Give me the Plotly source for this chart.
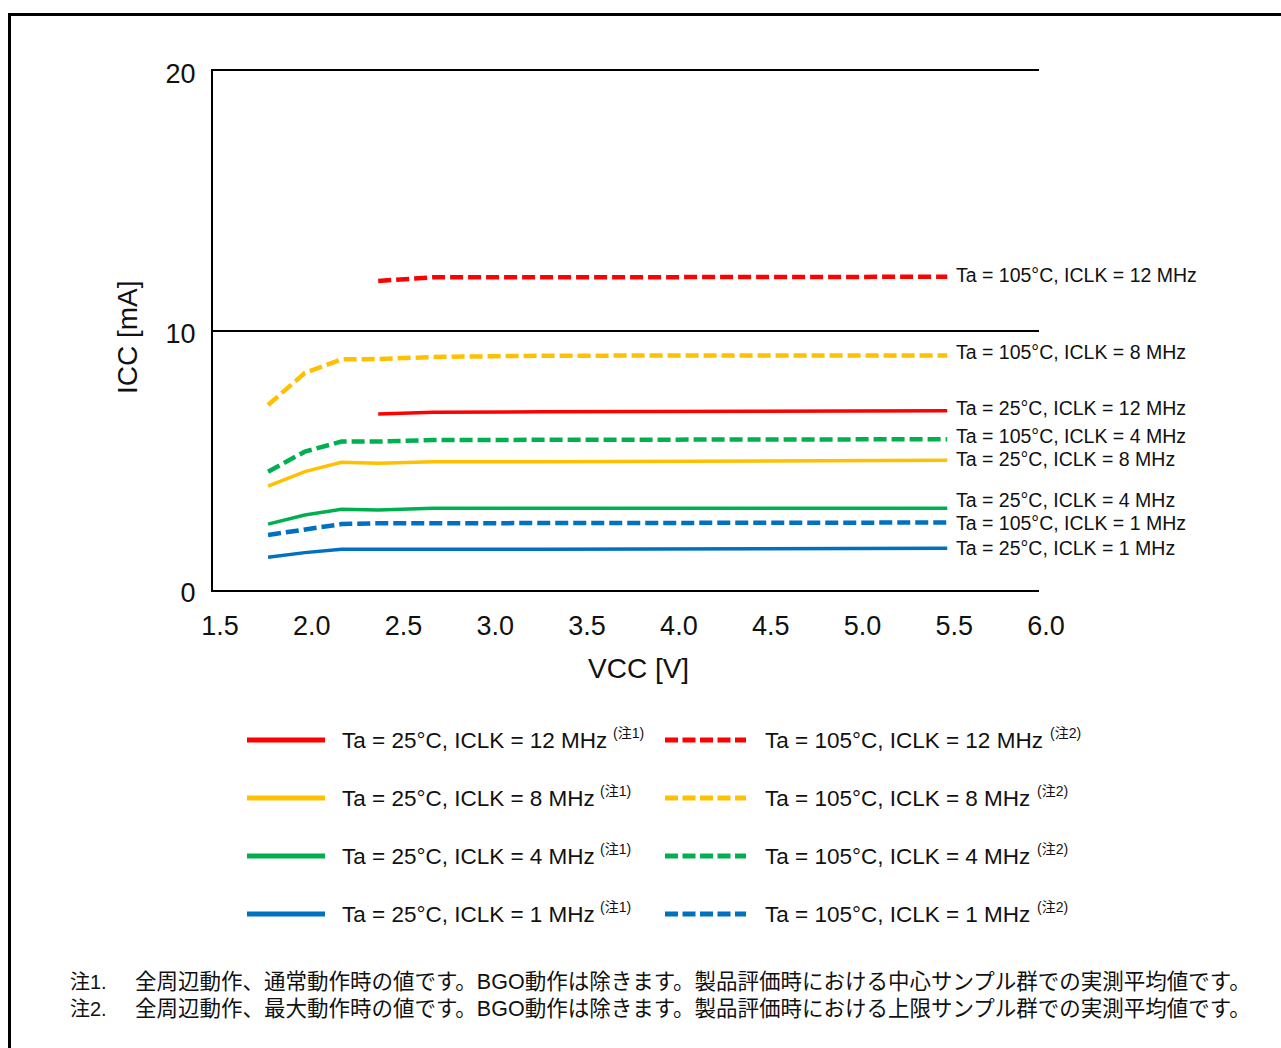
import plotly.graph_objects as go

# ---- data -------------------------------------------------------------
vcc = [1.8, 2.0, 2.2, 2.4, 2.7, 3.3, 5.5]
vcc_hi = [2.4, 2.7, 3.3, 5.5]

icc_25_12 = [6.78, 6.85, 6.87, 6.91]
icc_105_12 = [11.91, 12.05, 12.05, 12.07]
icc_25_8 = [4.00, 4.56, 4.92, 4.88, 4.94, 4.94, 5.00]
icc_105_8 = [7.13, 8.36, 8.89, 8.90, 8.98, 9.03, 9.04]
icc_25_4 = [2.54, 2.89, 3.11, 3.08, 3.15, 3.15, 3.15]
icc_105_4 = [4.56, 5.33, 5.72, 5.72, 5.78, 5.78, 5.81]
icc_25_1 = [1.26, 1.44, 1.57, 1.57, 1.54, 1.57, 1.61]
icc_105_1 = [2.12, 2.31, 2.54, 2.57, 2.57, 2.60, 2.60]

x_ticks = [1.5, 2.0, 2.5, 3.0, 3.5, 4.0, 4.5, 5.0, 5.5, 6.0]
y_ticks = [0, 10, 20]

names = {
    "25_12": "Ta = 25°C, ICLK = 12 MHz",
    "105_12": "Ta = 105°C, ICLK = 12 MHz",
    "25_8": "Ta = 25°C, ICLK = 8 MHz",
    "105_8": "Ta = 105°C, ICLK = 8 MHz",
    "25_4": "Ta = 25°C, ICLK = 4 MHz",
    "105_4": "Ta = 105°C, ICLK = 4 MHz",
    "25_1": "Ta = 25°C, ICLK = 1 MHz",
    "105_1": "Ta = 105°C, ICLK = 1 MHz",
}
notes = [
    ("注1.", "全周辺動作、通常動作時の値です。BGO動作は除きます。製品評価時における中心サンプル群での実測平均値です。"),
    ("注2.", "全周辺動作、最大動作時の値です。BGO動作は除きます。製品評価時における上限サンプル群での実測平均値です。"),
]

# ---- styling ----------------------------------------------------------
RED, YEL, GRN, BLU = "#FF0000", "#FFC000", "#00B050", "#0070C0"
FONT = "Liberation Sans, Arial, Noto Sans CJK JP, sans-serif"
DASH = "13px,5px"

series = [
    # key, x, y, colour, dashed
    ("105_12", vcc_hi, icc_105_12, RED, True),
    ("105_8", vcc, icc_105_8, YEL, True),
    ("25_12", vcc_hi, icc_25_12, RED, False),
    ("105_4", vcc, icc_105_4, GRN, True),
    ("25_8", vcc, icc_25_8, YEL, False),
    ("25_4", vcc, icc_25_4, GRN, False),
    ("105_1", vcc, icc_105_1, BLU, True),
    ("25_1", vcc, icc_25_1, BLU, False),
]
# vertical nudge (px) of each end label relative to its line end
label_shift = {"105_12": 2, "105_8": 3, "25_12": 3, "105_4": 3,
               "25_8": 1, "25_4": 8, "105_1": 0, "25_1": 0}

W_PX, H_PX = 1281, 1048
L, R, T, B = 213, 1039, 71, 590


def px(xp):
    return (xp - L) / (R - L)


def py(yp):
    return (B - yp) / (B - T)


fig = go.Figure()
annotations = []
shapes = []

for key, xs, ys, col, dashed in series:
    fig.add_trace(go.Scatter(
        x=xs, y=ys, mode="lines", name=names[key], showlegend=False,
        line=dict(color=col, width=4.5 if dashed else 3.5,
                  dash=DASH if dashed else "solid"),
    ))
    annotations.append(dict(
        x=xs[-1], y=ys[-1], xref="x", yref="y", text=names[key],
        showarrow=False, xanchor="left", yanchor="middle",
        xshift=7, yshift=label_shift[key],
        font=dict(family=FONT, size=19.5, color="#111"),
    ))

# legend block below the chart (two columns, four rows)
rows_px = [740, 798, 856, 914]
legend_cols = [
    # keys, sample x0, sample x1, text x, note, note x per row, dashed
    (["25_12", "25_8", "25_4", "25_1"], 247, 325, 340, "(注1)",
     [611, 598, 598, 598], False),
    (["105_12", "105_8", "105_4", "105_1"], 665, 746, 763, "(注2)",
     [1048, 1035, 1035, 1035], True),
]
colour_of = {k: c for k, _, _, c, _ in series}
for keys, lx0, lx1, tx, note, note_x, dashed in legend_cols:
    for key, ry, nx in zip(keys, rows_px, note_x):
        shapes.append(dict(
            type="line", xref="paper", yref="paper",
            x0=px(lx0), x1=px(lx1), y0=py(ry), y1=py(ry),
            line=dict(color=colour_of[key], width=5,
                      dash="13px,4.5px" if dashed else "solid"),
        ))
        annotations.append(dict(
            x=px(tx), y=py(ry), xref="paper", yref="paper",
            text=names[key],
            showarrow=False, xanchor="left", yanchor="middle",
            font=dict(family=FONT, size=22.5, color="#111"),
        ))
        annotations.append(dict(
            x=px(nx), y=py(ry - 7), xref="paper", yref="paper",
            text=note,
            showarrow=False, xanchor="left", yanchor="middle",
            font=dict(family=FONT, size=14, color="#111"),
        ))

# footnotes
for (lab, body), ny in zip(notes, [982, 1009]):
    annotations.append(dict(
        x=px(68), y=py(ny), xref="paper", yref="paper", text=lab,
        showarrow=False, xanchor="left", yanchor="middle",
        font=dict(family=FONT, size=20, color="#111"),
    ))
    annotations.append(dict(
        x=px(133), y=py(ny), xref="paper", yref="paper", text=body,
        showarrow=False, xanchor="left", yanchor="middle",
        font=dict(family=FONT, size=21.5, color="#111"),
    ))

# axis titles
annotations.append(dict(
    x=px(638), y=py(668), xref="paper", yref="paper", text="VCC [V]",
    showarrow=False, xanchor="center", yanchor="middle",
    font=dict(family=FONT, size=28, color="#111"),
))
annotations.append(dict(
    x=px(127), y=py(337), xref="paper", yref="paper", text="ICC [mA]",
    showarrow=False, xanchor="center", yanchor="middle", textangle=-90,
    font=dict(family=FONT, size=28, color="#111"),
))

# outer frame
shapes.append(dict(
    type="rect", xref="paper", yref="paper",
    x0=px(9.5), x1=px(1320), y0=py(1090), y1=py(14.5),
    line=dict(color="black", width=3), fillcolor="rgba(0,0,0,0)",
    layer="below",
))

fig.update_layout(
    width=W_PX, height=H_PX,
    margin=dict(l=L, r=W_PX - R, t=T, b=H_PX - B),
    paper_bgcolor="white", plot_bgcolor="white",
    font=dict(family=FONT, color="#111"),
    shapes=shapes, annotations=annotations,
    xaxis=dict(
        range=[1.5, 6.0], tickvals=x_ticks, tickformat=".1f",
        showgrid=False, zeroline=False, showline=True, mirror=True,
        linecolor="black", linewidth=2, ticks="",
        tickfont=dict(family=FONT, size=27, color="#111"),
        ticklabelshift=7, ticklabelstandoff=11,
    ),
    yaxis=dict(
        range=[0, 20], tickvals=y_ticks,
        showgrid=True, gridcolor="black", gridwidth=1.5,
        zeroline=False, showline=True, linecolor="black", linewidth=2,
        ticks="", tickfont=dict(family=FONT, size=27, color="#111"),
        ticklabelstandoff=10, ticklabelshift=3,
    ),
)

fig.write_html("out.html")
